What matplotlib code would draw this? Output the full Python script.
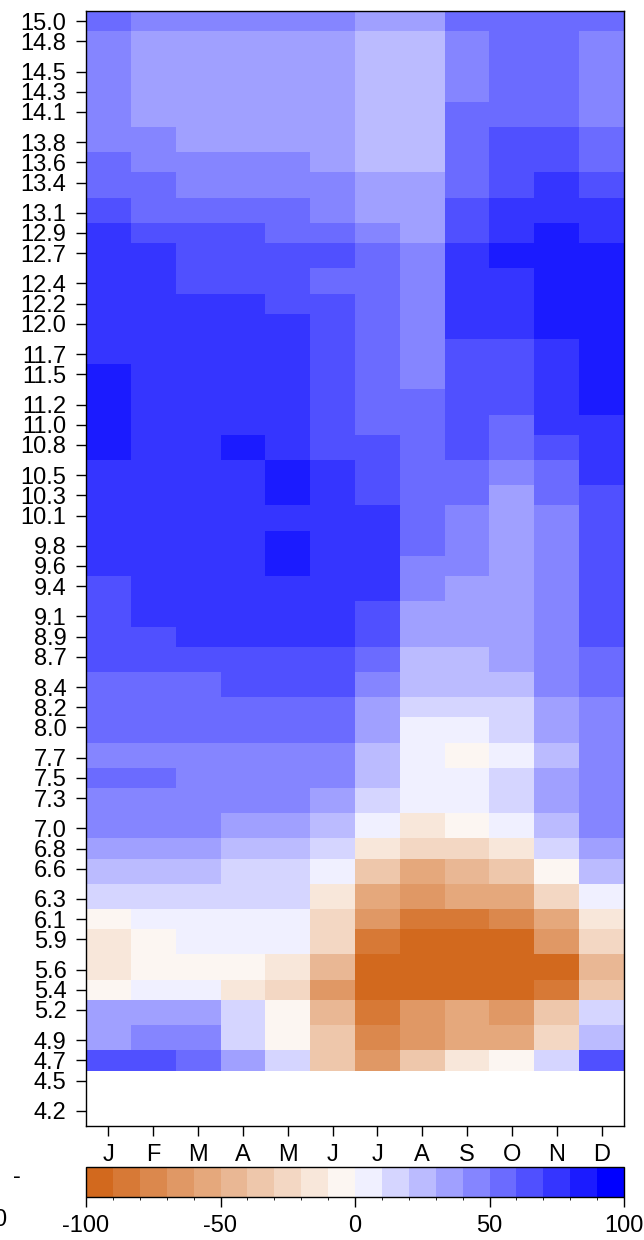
import matplotlib
matplotlib.use("Agg")
import matplotlib.pyplot as plt
import numpy as np
from matplotlib.colors import BoundaryNorm, ListedColormap

plt.rcParams["font.family"] = ["Liberation Sans", "DejaVu Sans"]
plt.rcParams["axes.unicode_minus"] = False

months = ["J", "F", "M", "A", "M", "J", "J", "A", "S", "O", "N", "D"]
heights = [15.0, 14.8, 14.5, 14.3, 14.1, 13.8, 13.6, 13.4, 13.1, 12.9, 12.7, 12.4,
           12.2, 12.0, 11.7, 11.5, 11.2, 11.0, 10.8, 10.5, 10.3, 10.1, 9.8, 9.6,
           9.4, 9.1, 8.9, 8.7, 8.4, 8.2, 8.0, 7.7, 7.5, 7.3, 7.0, 6.8, 6.6, 6.3,
           6.1, 5.9, 5.6, 5.4, 5.2, 4.9, 4.7, 4.5, 4.2]

# percent change, one row per height (top to bottom), one column per month
pct = [
    [55, 45, 45, 45, 45, 45, 35, 35, 55, 55, 55, 55],
    [45, 35, 35, 35, 35, 35, 25, 25, 45, 55, 55, 45],
    [45, 35, 35, 35, 35, 35, 25, 25, 45, 55, 55, 45],
    [45, 35, 35, 35, 35, 35, 25, 25, 45, 55, 55, 45],
    [45, 35, 35, 35, 35, 35, 25, 25, 55, 55, 55, 45],
    [45, 45, 35, 35, 35, 35, 25, 25, 55, 65, 65, 55],
    [55, 45, 45, 45, 45, 35, 25, 25, 55, 65, 65, 55],
    [55, 55, 45, 45, 45, 45, 35, 35, 55, 65, 75, 65],
    [65, 55, 55, 55, 55, 45, 35, 35, 65, 75, 75, 75],
    [75, 65, 65, 65, 55, 55, 45, 35, 65, 75, 85, 75],
    [75, 75, 65, 65, 65, 65, 55, 45, 75, 85, 85, 85],
    [75, 75, 65, 65, 65, 55, 55, 45, 75, 75, 85, 85],
    [75, 75, 75, 75, 65, 65, 55, 45, 75, 75, 85, 85],
    [75, 75, 75, 75, 75, 65, 55, 45, 75, 75, 85, 85],
    [75, 75, 75, 75, 75, 65, 55, 45, 65, 65, 75, 85],
    [85, 75, 75, 75, 75, 65, 55, 45, 65, 65, 75, 85],
    [85, 75, 75, 75, 75, 65, 55, 55, 65, 65, 75, 85],
    [85, 75, 75, 75, 75, 65, 55, 55, 65, 55, 75, 75],
    [85, 75, 75, 85, 75, 65, 65, 55, 65, 55, 65, 75],
    [75, 75, 75, 75, 85, 75, 65, 55, 55, 45, 55, 75],
    [75, 75, 75, 75, 85, 75, 65, 55, 55, 35, 55, 65],
    [75, 75, 75, 75, 75, 75, 75, 55, 45, 35, 45, 65],
    [75, 75, 75, 75, 85, 75, 75, 55, 45, 35, 45, 65],
    [75, 75, 75, 75, 85, 75, 75, 45, 45, 35, 45, 65],
    [65, 75, 75, 75, 75, 75, 75, 45, 35, 35, 45, 65],
    [65, 75, 75, 75, 75, 75, 65, 35, 35, 35, 45, 65],
    [65, 65, 75, 75, 75, 75, 65, 35, 35, 35, 45, 65],
    [65, 65, 65, 65, 65, 65, 55, 25, 25, 35, 45, 55],
    [55, 55, 55, 65, 65, 65, 45, 25, 25, 25, 45, 55],
    [55, 55, 55, 55, 55, 55, 35, 15, 15, 15, 35, 45],
    [55, 55, 55, 55, 55, 55, 35, 5, 5, 15, 35, 45],
    [45, 45, 45, 45, 45, 45, 25, 5, -5, 5, 25, 45],
    [55, 55, 45, 45, 45, 45, 25, 5, 5, 15, 35, 45],
    [45, 45, 45, 45, 45, 35, 15, 5, 5, 15, 35, 45],
    [45, 45, 45, 35, 35, 25, 5, -15, -5, 5, 25, 45],
    [35, 35, 35, 25, 25, 15, -15, -25, -25, -15, 15, 35],
    [25, 25, 25, 15, 15, 5, -35, -55, -45, -35, -5, 25],
    [15, 15, 15, 15, 15, -15, -55, -65, -55, -55, -25, 5],
    [-5, 5, 5, 5, 5, -25, -65, -85, -85, -75, -55, -15],
    [-15, -5, 5, 5, 5, -25, -85, -95, -95, -95, -65, -25],
    [-15, -5, -5, -5, -15, -45, -95, -95, -95, -95, -95, -45],
    [-5, 5, 5, -15, -25, -65, -95, -95, -95, -95, -85, -35],
    [35, 35, 35, 15, -5, -45, -85, -65, -55, -65, -35, 15],
    [35, 45, 45, 15, -5, -35, -75, -65, -55, -55, -25, 25],
    [65, 65, 55, 35, 15, -35, -65, -35, -15, -5, 15, 65],
    [np.nan] * 12,
    [np.nan] * 12,
]

levels = list(range(-100, 101, 10))
cbar_ticks = [-100, -50, 0, 50, 100]
colors = ["#D2691E", "#D77936", "#DB884D", "#E09865", "#E5A87C",
          "#E9B794", "#EEC7AB", "#F3D7C3", "#F8E7DA", "#FCF6F2",
          "#F0F0FF", "#D5D5FF", "#BBBBFF", "#A0A0FF", "#8585FF",
          "#6B6BFF", "#5050FF", "#3535FF", "#1B1BFF", "#0000FF"]

cmap = ListedColormap(colors)
norm = BoundaryNorm(levels, cmap.N)

y = np.array(heights)
mid = (y[:-1] + y[1:]) / 2
y_edges = np.concatenate([[y[0] + (y[0] - y[1]) / 2], mid, [y[-1] - (y[-2] - y[-1]) / 2]])
x_edges = np.arange(0.5, 13.0, 1.0)

W, H = 644, 1240
fig = plt.figure(figsize=(W / 100, H / 100), dpi=100)
ax = fig.add_axes([86 / W, 1 - 1126 / H, 538 / W, 1115 / H])
ax.pcolormesh(x_edges, y_edges, np.array(pct, dtype=float), cmap=cmap, norm=norm)
ax.set_xlim(0.5, 12.5)
ax.set_ylim(y_edges[-1], y_edges[0])

ax.set_yticks(heights)
ax.set_yticklabels([f"{h:.1f}" for h in heights])
ax.set_xticks(range(1, 13))
ax.set_xticklabels(months)
ax.tick_params(axis="both", direction="out", length=7, width=1, labelsize=17, pad=7)
ax.tick_params(axis="x", pad=6)
for sp in ax.spines.values():
    sp.set_linewidth(1.0)

cax = fig.add_axes([86 / W, 1 - 1197 / H, 538 / W, 30 / H])
cb = fig.colorbar(plt.cm.ScalarMappable(norm=norm, cmap=cmap), cax=cax,
                  orientation="horizontal", ticks=cbar_ticks)
cb.ax.tick_params(direction="out", length=7, width=1, labelsize=17, pad=6)
cb.outline.set_linewidth(1.0)

# fragments of the neighbouring panel at the left edge
fig.text(17 / W, 1 - 1177 / H, "-", fontsize=17, ha="center", va="center")
fig.text(6 / W, 1 - 1220 / H, "0", fontsize=17, ha="right", va="center")

fig.savefig("out.png", dpi=100)
